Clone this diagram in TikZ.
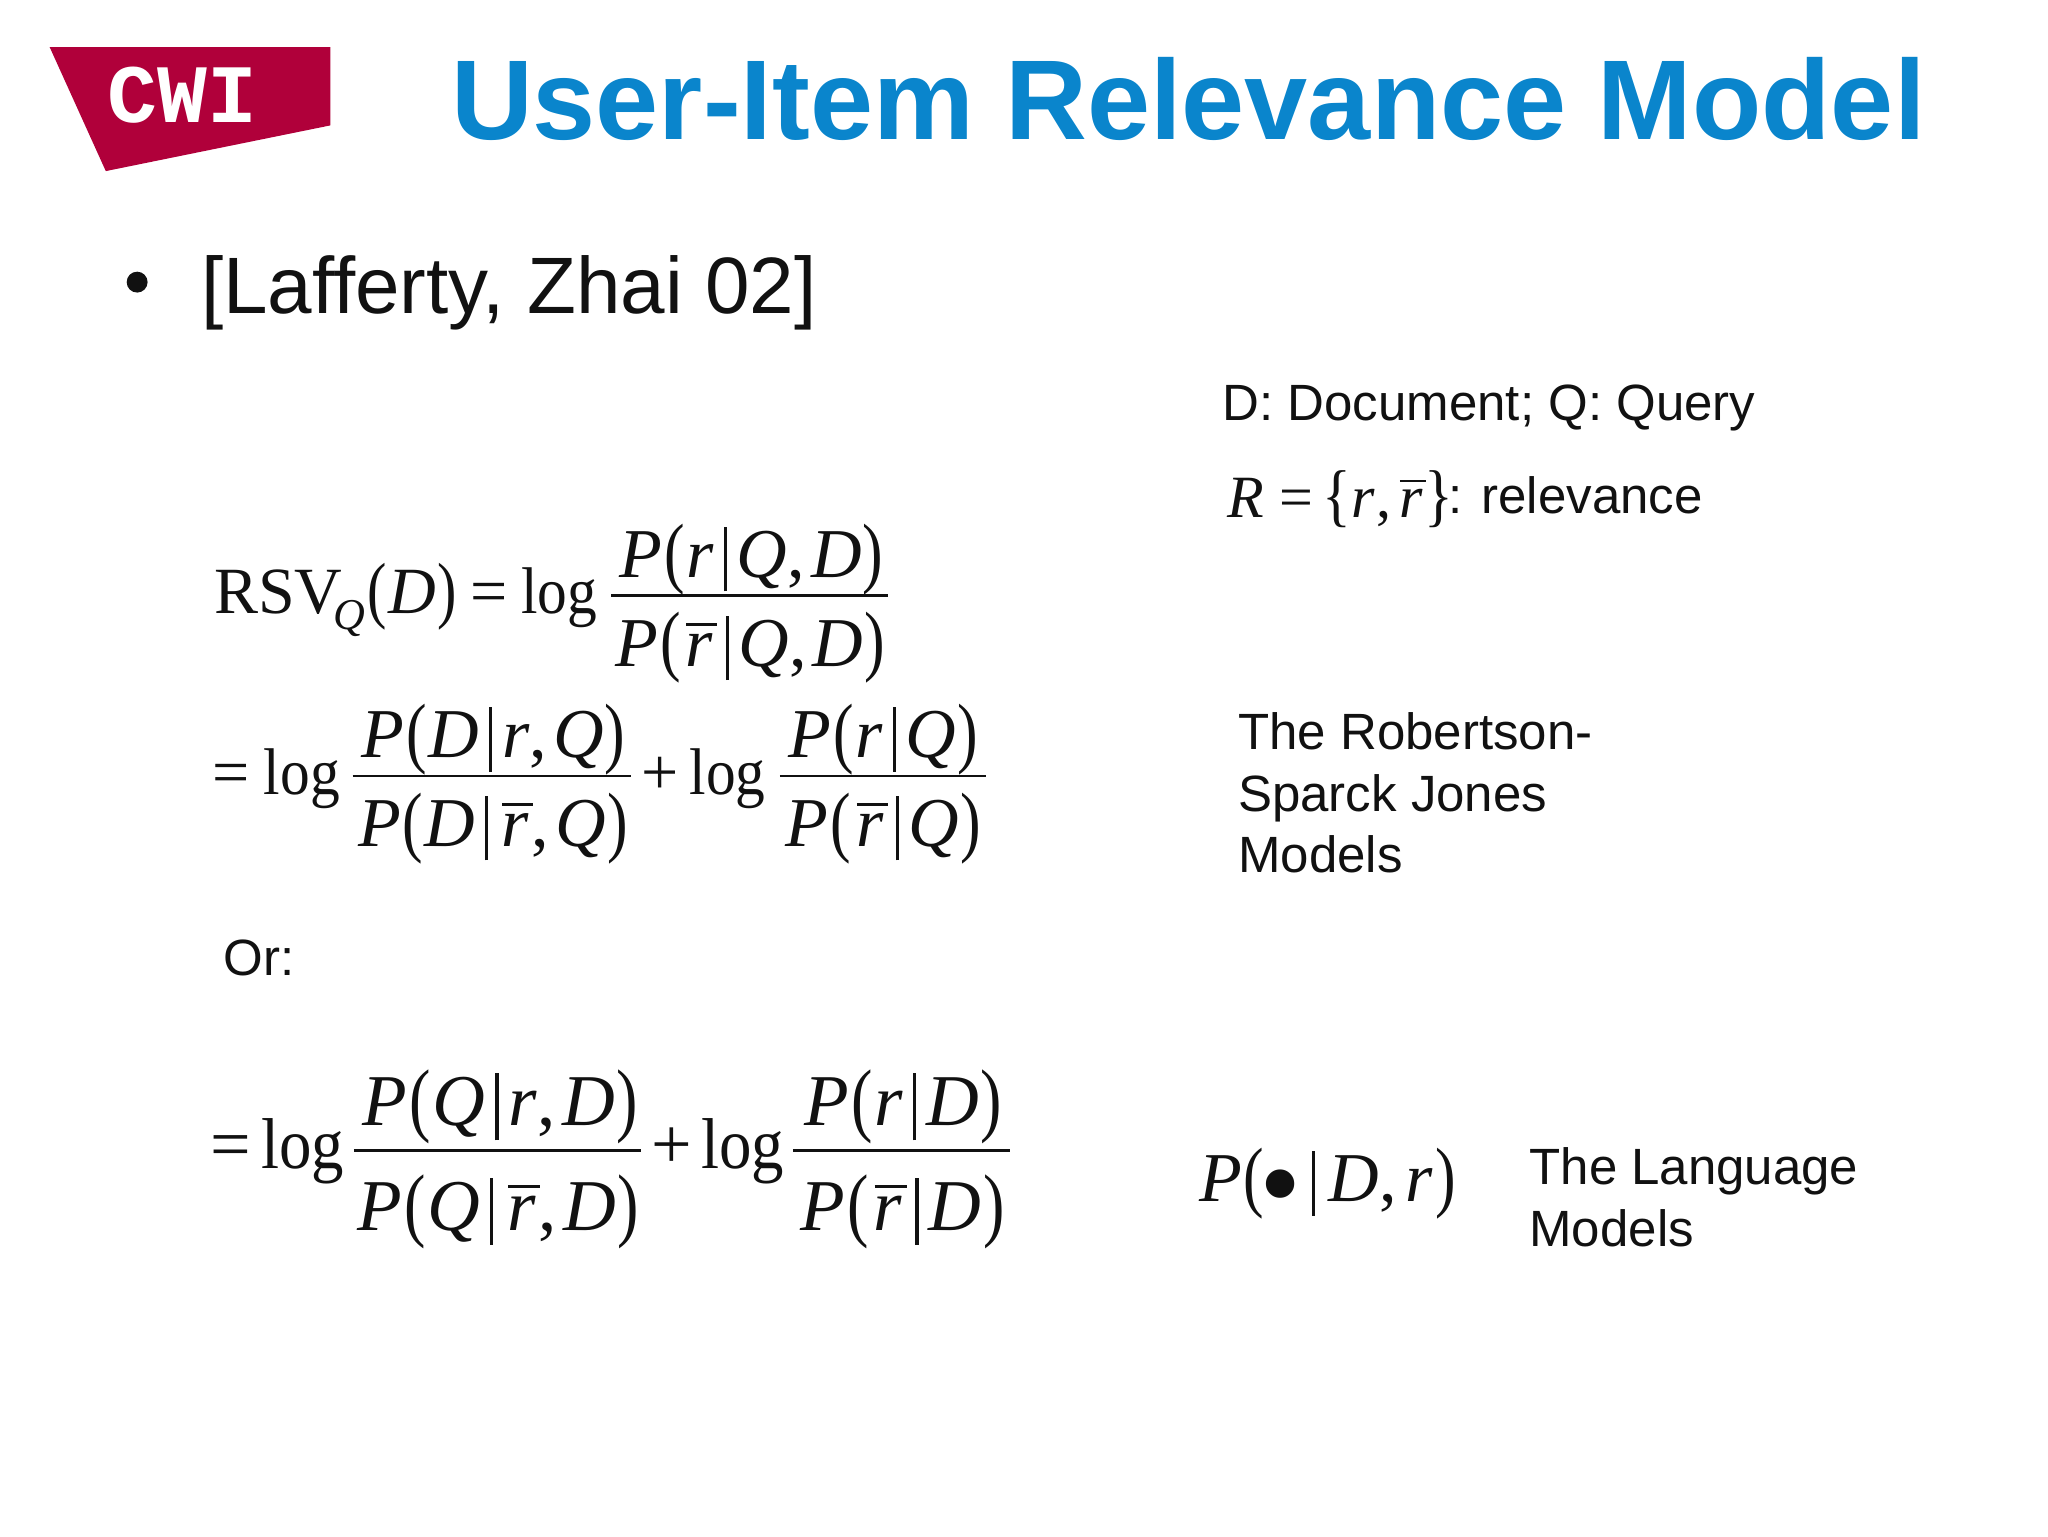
\documentclass[tikz,border=0pt]{standalone}
\usepackage{fontspec}
\usepackage{graphicx}
\setmainfont{Liberation Sans}
\newfontfamily\serifx{Liberation Serif}
\newfontfamily\monox{Liberation Mono}
\definecolor{titleblue}{HTML}{0A85CC}
\definecolor{cwired}{HTML}{B0003A}
\definecolor{inkc}{HTML}{111111}
\newcommand{\lp}{\kern.03em{\upshape\raisebox{-.01em}{\scalebox{.88}[1.12]{(}}}\kern.02em}
\newcommand{\rp}{\kern.02em{\upshape\raisebox{-.01em}{\scalebox{.88}[1.12]{)}}}}
\newcommand{\vb}{\kern.14em\raisebox{-.2em}{\rule{.045em}{.92em}}\kern.14em}
\newcommand{\rb}{\kern.05em\setbox0\hbox{r}\rlap{\kern.01em\raisebox{.58em}{\rule{.44em}{.04em}}}r\kern.04em}
\newcommand{\cm}{{\upshape,}\kern.09em}
\newcommand{\lgx}{\scalebox{.9}[1]{log}}
\tikzset{
  x=0.65306pt,y=-0.65306pt,
  lbl/.style={anchor=base west,inner sep=0pt,outer sep=0pt,text=inkc},
  eqa/.style={lbl,font=\serifx\fontsize{33}{33}\selectfont},
  eqb/.style={lbl,font=\serifx\fontsize{36}{36}\selectfont},
  fr/.style={anchor=base,inner sep=0pt,outer sep=0pt,text=inkc,font=\serifx\itshape\fontsize{35}{35}\selectfont},
  frb/.style={fr,font=\serifx\itshape\fontsize{36.5}{36.5}\selectfont},
  bar/.style={draw=inkc,line width=1.25pt},
  body/.style={lbl,font=\fontsize{25.5}{25.5}\selectfont},
}
\begin{document}
\begin{tikzpicture}
\useasboundingbox (0,0) rectangle (1568,1176);
\fill[cwired] (38,36) -- (253,36) -- (253,96) -- (81,131) -- cycle;
\node[anchor=base west,inner sep=0pt,text=white,font=\monox\bfseries\fontsize{41.5}{41.5}\selectfont] (logo) at (82,94) {CWI};
\node[anchor=base west,inner sep=0pt,text=titleblue,font=\bfseries\fontsize{56.7}{56.7}\selectfont] (title) at (345,107) {User-Item Relevance Model};
\fill[inkc] (105,216) circle (8);
\node[lbl,font=\fontsize{40}{40}\selectfont] (ref) at (154,240) {[Lafferty, Zhai 02]};
\node[body] (dq) at (936,322) {D: Document; Q: Query};
\node[lbl,font=\serifx\fontsize{30}{30}\selectfont] (rel) at (940,396) {\textit{R}\kern.25em=\kern.15em\raisebox{-.02em}{\scalebox{1}[1.15]{\{}}\textit{r}\kern.03em,\kern.08em\textit{\rb}\raisebox{-.02em}{\scalebox{1}[1.15]{\}}}};
\node[body] (rel2) at (1109,393) {: relevance};
% equation 1
\node[eqa] (e1) at (164,470) {RSV};
\node[eqa,font=\serifx\itshape\fontsize{22}{22}\selectfont] (e1q) at (255,482) {Q};
\node[fr,anchor=base west,font=\serifx\itshape\fontsize{33}{33}\selectfont] (e1b) at (280,470) {\lp D\rp};
\node[eqa] (e1e) at (360,470) {=};
\node[eqa] (e1l) at (399,470) {\lgx};
\node[fr] (e1n) at (575.5,442) {P\lp r\vb Q\cm D\rp};
\node[fr] (e1d) at (574.5,510) {P\lp\rb\vb Q\cm D\rp};
\draw[bar] (468,456) -- (680,456);
% equation 2
\node[eqa] (e2) at (163,608) {=};
\node[eqa] (e2l) at (202,608) {\lgx};
\node[fr] (e2n) at (378,580) {P\lp D\vb r\cm Q\rp};
\node[fr] (e2d) at (377.5,648) {P\lp D\vb\rb\cm Q\rp};
\draw[bar] (270,594) -- (483,594);
\node[eqa] (e2p) at (491,608) {+};
\node[eqa] (e2o) at (528,608) {\lgx};
\node[fr] (e2m) at (676.5,580) {P\lp r\vb Q\rp};
\node[fr] (e2e) at (676.5,648) {P\lp\rb\vb Q\rp};
\draw[bar] (597,594) -- (755,594);
\node[body] (or) at (171,747) {Or:};
% equation 3
\node[eqb] (e3) at (161,895) {=};
\node[eqb] (e3l) at (200,895) {\lgx};
\node[frb] (e3n) at (383,862) {P\lp Q\vb r\cm D\rp};
\node[frb] (e3d) at (381.5,942) {P\lp Q\vb\rb\cm D\rp};
\draw[bar] (271,881) -- (491,881);
\node[eqb] (e3p) at (499,895) {+};
\node[eqb] (e3o) at (537,895) {\lgx};
\node[frb] (e3m) at (691.5,862) {P\lp r\vb D\rp};
\node[frb] (e3e) at (691,942) {P\lp\rb\vb D\rp};
\draw[bar] (607,881) -- (773,881);
% right labels
\node[body] (rsja) at (948,574) {The Robertson-};
\node[body] (rsjb) at (948,621) {Sparck Jones};
\node[body] (rsjc) at (948,668) {Models};
\node[fr,anchor=base west] (lm) at (918,920) {P\lp\kern-.1em\raisebox{-.31em}{\scalebox{1.7}{\textbullet}}\kern.02em\vb\kern.06em D\cm\kern.03em r\kern.02em\rp};
\node[body] (langa) at (1171,907) {The Language};
\node[body] (langb) at (1171,954) {Models};
\end{tikzpicture}
\end{document}
